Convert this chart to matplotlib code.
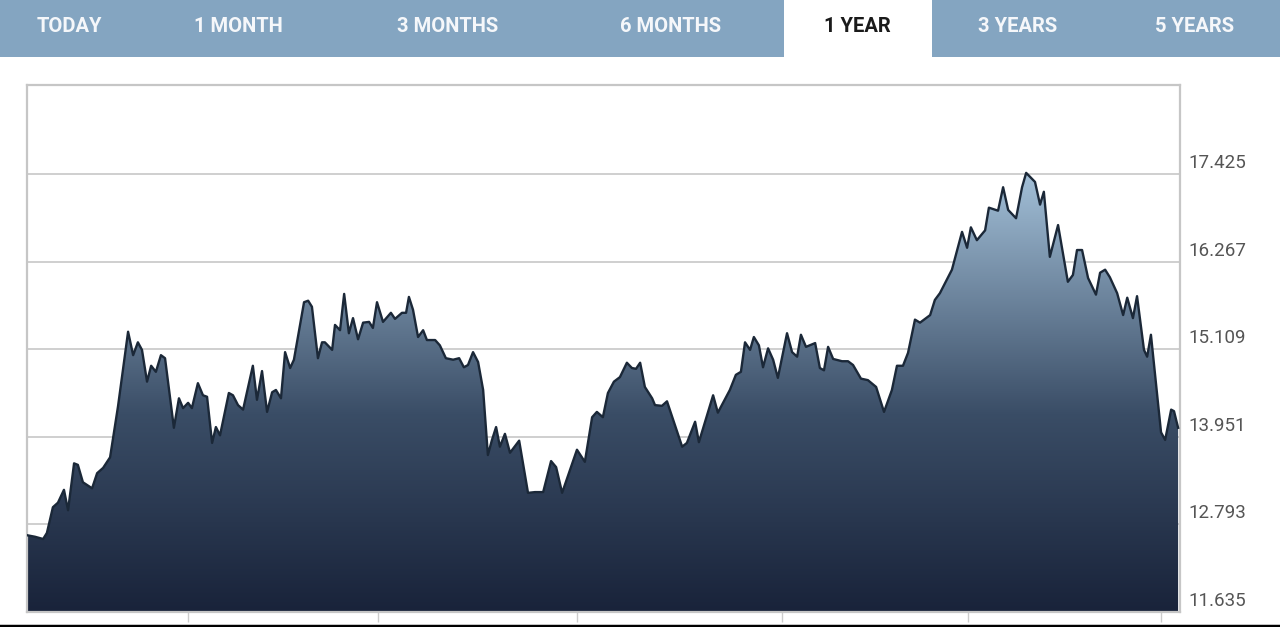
import numpy as np
import matplotlib
matplotlib.use("Agg")
import matplotlib.pyplot as plt
from matplotlib.colors import LinearSegmentedColormap
from matplotlib.patches import Rectangle
from matplotlib.transforms import ScaledTranslation

# ---------------- data ----------------
days = [0, 2.5, 5.1, 6.3, 8.2, 9.8, 11.7, 13.0, 14.9, 16.1, 17.7, 20.6, 22.2, 24.1, 26.3, 28.8,
        32.0, 33.6, 35.1, 36.4, 38.0, 39.3, 40.8, 42.4, 43.7, 46.5, 48.1, 49.4, 51.0, 52.2, 54.1,
        55.7, 57.0, 58.6, 59.8, 61.1, 63.9, 65.2, 66.8, 68.4, 71.5, 72.8, 74.4, 76.0, 77.6, 78.8,
        80.4, 81.7, 83.3, 84.5, 87.7, 89.0, 90.2, 92.1, 93.4, 94.3, 96.6, 97.5, 99.1, 100.4, 101.9,
        103.2, 104.8, 106.4, 108.3, 109.5, 110.8, 112.7, 115.2, 116.5, 118.7, 120.0, 120.9, 122.2,
        123.8, 125.4, 126.6, 129.2, 130.7, 132.6, 134.9, 136.8, 138.3, 139.6, 141.2, 142.8, 144.4,
        145.9, 147.2, 148.5, 149.7, 151.3, 152.9, 155.8, 158.6, 160.8, 163.4, 165.9, 167.5, 169.4,
        174.1, 176.6, 178.9, 180.4, 182.3, 183.9, 185.8, 187.7, 189.9, 191.5, 192.8, 194.1, 195.6,
        197.9, 198.8, 201.0, 202.6, 207.4, 208.9, 211.5, 212.7, 217.2, 218.7, 222.5, 224.4, 226.0,
        227.3, 228.9, 230.1, 231.7, 233.0, 234.6, 236.2, 237.7, 240.6, 242.2, 243.8, 245.0, 246.6,
        249.5, 251.0, 252.3, 253.6, 255.2, 258.0, 259.9, 261.5, 264.0, 266.2, 268.8, 271.3, 273.8,
        275.4, 277.3, 278.9, 281.1, 282.7, 285.9, 287.4, 289.0, 292.8, 296.0, 297.6, 298.8, 300.7,
        303.3, 304.5, 307.4, 309.0, 310.6, 313.1, 315.0, 316.3, 319.1, 320.7, 321.9, 323.8, 326.4,
        329.5, 331.1, 332.4, 334.0, 335.9, 338.4, 339.7, 341.3, 342.8, 345.1, 347.0, 348.3, 350.1,
        351.4, 353.6, 354.6, 355.8, 359.0, 360.3, 362.2, 363.1, 364.4]

prices = [12.65, 12.63, 12.60, 12.68, 13.02, 13.08, 13.25, 12.98, 13.60, 13.58, 13.35, 13.27, 13.47,
          13.54, 13.68, 14.35, 15.34, 15.03, 15.20, 15.10, 14.68, 14.89, 14.81, 15.03, 14.99, 14.07,
          14.46, 14.33, 14.40, 14.33, 14.66, 14.50, 14.48, 13.87, 14.08, 13.97, 14.53, 14.50, 14.37,
          14.31, 14.89, 14.44, 14.82, 14.28, 14.54, 14.57, 14.46, 15.07, 14.86, 14.97, 15.73, 15.75,
          15.67, 14.99, 15.20, 15.20, 15.10, 15.43, 15.36, 15.84, 15.32, 15.52, 15.24, 15.46, 15.47,
          15.39, 15.73, 15.47, 15.59, 15.51, 15.59, 15.59, 15.80, 15.63, 15.27, 15.36, 15.23, 15.23,
          15.16, 14.99, 14.97, 14.99, 14.87, 14.90, 15.07, 14.94, 14.57, 13.71, 13.91, 14.08, 13.82,
          13.99, 13.74, 13.90, 13.21, 13.22, 13.22, 13.63, 13.55, 13.21, 13.78, 13.62, 14.21, 14.28,
          14.21, 14.53, 14.68, 14.74, 14.93, 14.86, 14.85, 14.93, 14.61, 14.46, 14.37, 14.36, 14.42,
          13.82, 13.87, 14.15, 13.88, 14.50, 14.27, 14.57, 14.77, 14.81, 15.20, 15.10, 15.27, 15.16,
          14.87, 15.12, 14.97, 14.73, 15.32, 15.07, 15.01, 15.30, 15.14, 15.19, 14.86, 14.83, 15.14,
          14.98, 14.95, 14.95, 14.90, 14.72, 14.70, 14.61, 14.28, 14.57, 14.89, 14.89, 15.06, 15.50,
          15.46, 15.56, 15.76, 15.85, 16.16, 16.66, 16.45, 16.72, 16.55, 16.68, 16.98, 16.94, 17.25,
          16.95, 16.84, 17.25, 17.44, 17.32, 17.02, 17.19, 16.33, 16.75, 16.00, 16.09, 16.42, 16.42,
          16.05, 15.83, 16.12, 16.16, 16.06, 15.85, 15.56, 15.79, 15.52, 15.81, 15.10, 15.01, 15.30,
          14.01, 13.91, 14.31, 14.29, 14.07]

y_ticks = [11.635, 12.793, 13.951, 15.109, 16.267, 17.425]
y_tick_labels = ["11.635", "12.793", "13.951", "15.109", "16.267", "17.425"]
x_tick_days = [51, 111, 174, 239, 298, 359]
tabs = ["TODAY", "1 MONTH", "3 MONTHS", "6 MONTHS", "1 YEAR", "3 YEARS", "5 YEARS"]
tab_centers = [69, 238, 448, 671, 857, 1018, 1195]
selected_tab = "1 YEAR"

# ---------------- figure ----------------
W, H = 1280, 627
fig = plt.figure(figsize=(W / 100, H / 100), dpi=100)
fig.patch.set_facecolor("white")

# tab bar
tab_h = 57
tax = fig.add_axes([0, 1 - tab_h / H, 1, tab_h / H])
tax.set_xlim(0, W)
tax.set_ylim(tab_h, 0)
tax.axis("off")
tax.add_patch(Rectangle((0, 0), W, tab_h, facecolor="#84a5c1", edgecolor="none"))
tax.add_patch(Rectangle((784, 0), 148, tab_h, facecolor="white", edgecolor="none"))
for name, cx in zip(tabs, tab_centers):
    tax.text(cx, 27, name, ha="center", va="center", fontsize=14.5, fontweight="bold",
             family="Roboto", color="#1a1a1a" if name == selected_tab else "#f5f7fa")

# plot area
left, right, top, bottom = 27, 1180, 85, 612
ax = fig.add_axes([left / W, (H - bottom) / H, (right - left) / W, (bottom - top) / H])
ymin = 11.635
ymax = ymin + (bottom - top) * (17.425 - 11.635) / (5 * 87.6)
ax.set_xlim(0, 365)
ax.set_ylim(ymin, ymax)

ax.set_yticks(y_ticks)
ax.yaxis.grid(True, color="#cfcfcf", lw=1.4)
ax.set_axisbelow(True)
ax.tick_params(axis="y", length=0, labelleft=False, labelright=False)
ax.set_xticks(x_tick_days)
ax.tick_params(axis="x", length=7, width=1, color="#cccccc", labelbottom=False, direction="out")
for s in ax.spines.values():
    s.set_color("#c6c6c6")
    s.set_linewidth(1.6)

# gradient-filled area
poly = ax.fill_between(days, prices, ymin, facecolor="none", edgecolor="none")
cmap = LinearSegmentedColormap.from_list(
    "g", [(0.0, "#19233a"), (0.45, "#3a4d66"), (1.0, "#a3c0d8")])
grad = np.linspace(0, 1, 256).reshape(-1, 1)
im = ax.imshow(grad, cmap=cmap, origin="lower", aspect="auto",
               extent=[0, 365, ymin, max(prices)], zorder=2, interpolation="bicubic")
path = poly.get_paths()[0]
im.set_clip_path(path, transform=ax.transData)
ax.plot(days, prices, color="#1b2838", lw=1.7, zorder=3)
ax.set_xlim(0, 365)
ax.set_ylim(ymin, ymax)

# y labels on the right, sitting above their gridlines
off = ScaledTranslation(8 / 100, 11 / 100, fig.dpi_scale_trans)
for v, lab in zip(y_ticks, y_tick_labels):
    ax.text(1.0, v, lab, transform=ax.get_yaxis_transform() + off, ha="left", va="center",
            fontsize=13.5, family="Roboto", color="#555555")

# bottom black border
fig.add_artist(plt.Line2D([0, 1], [1.5 / H, 1.5 / H], color="black", lw=2.5,
                          transform=fig.transFigure))

fig.savefig("out.png", dpi=100, facecolor="white")
